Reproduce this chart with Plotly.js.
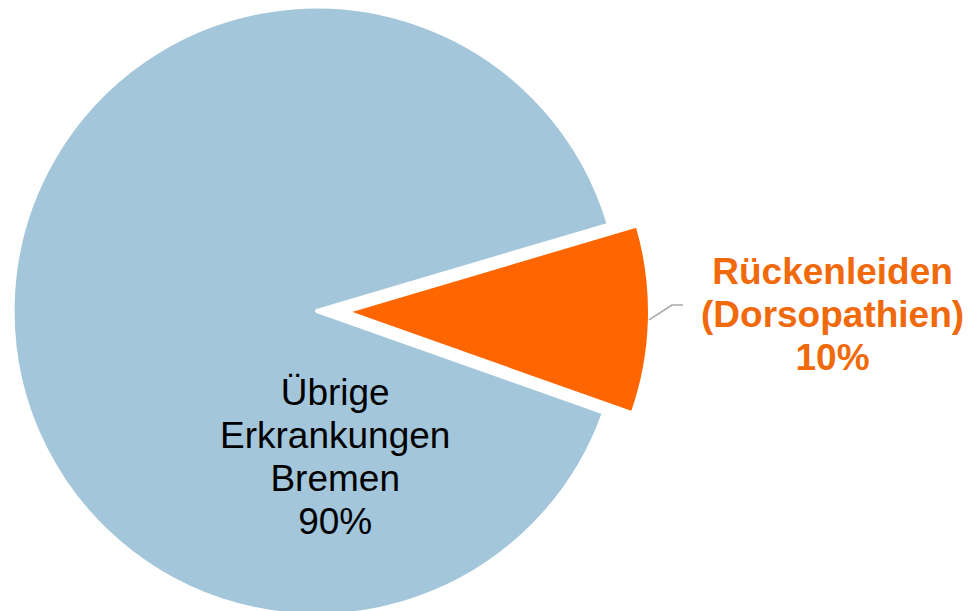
<!DOCTYPE html>
<html>
<head>
<meta charset="utf-8">
<script src="https://cdn.plot.ly/plotly-3.0.1.min.js"></script>
<style>
html, body { margin: 0; padding: 0; overflow: hidden; background: #ffffff; width: 972px; height: 611px; }
#chart { position: absolute; left: -16px; top: -22px; width: 1000px; height: 666px; }
</style>
</head>
<body>
<div id="chart"></div>
<script>
// Data
var labels = ['Rückenleiden<br>(Dorsopathien)', 'Übrige<br>Erkrankungen<br>Bremen'];
var values = [10, 90];
var colors = ['#ff6600', '#a3c6da'];
var textColors = ['#f06a0c', '#000000'];

var total = values.reduce(function (a, b) { return a + b; }, 0);
function pct(v) { return Math.round(v / total * 100) + '%'; }

var trace = {
  type: 'pie',
  labels: labels,
  values: values,
  sort: false,
  direction: 'clockwise',
  rotation: 73.5,
  pull: [0.094, 0],
  marker: { colors: colors, line: { color: '#ffffff', width: 4 } },
  textinfo: 'none',
  hoverinfo: 'none',
  showlegend: false,
  domain: { x: [0, 0.666], y: [0, 1] }
};

var annotations = [
  {
    xref: 'paper', yref: 'paper', x: 0.848, y: 0.4947,
    xanchor: 'center', yanchor: 'middle', showarrow: false, align: 'center',
    text: '<span style="font-size:37px">' + labels[0] + '<br>' + pct(values[0]) + '</span>',
    font: { family: 'Arial, "Liberation Sans", sans-serif', size: 33, color: textColors[0], weight: 'bold' }
  },
  {
    xref: 'paper', yref: 'paper', x: 0.3505, y: 0.2808,
    xanchor: 'center', yanchor: 'middle', showarrow: false, align: 'center',
    text: '<span style="font-size:37px">' + labels[1] + '<br>' + pct(values[1]) + '</span>',
    font: { family: 'Arial, "Liberation Sans", sans-serif', size: 33, color: textColors[1] }
  }
];

var shapes = [
  {
    type: 'path', xref: 'paper', yref: 'paper',
    path: 'M 0.665 0.4865 L 0.688 0.5090 L 0.699 0.5090',
    line: { color: '#a6a6a6', width: 1.5 }
  }
];

var layout = {
  width: 1000, height: 666,
  margin: { l: 0, r: 0, t: 0, b: 0, pad: 0 },
  paper_bgcolor: '#ffffff', plot_bgcolor: '#ffffff',
  showlegend: false,
  annotations: annotations,
  shapes: shapes,
  font: { family: 'Arial, "Liberation Sans", sans-serif' }
};

Plotly.newPlot('chart', [trace], layout, { displayModeBar: false, staticPlot: true });
</script>
</body>
</html>
